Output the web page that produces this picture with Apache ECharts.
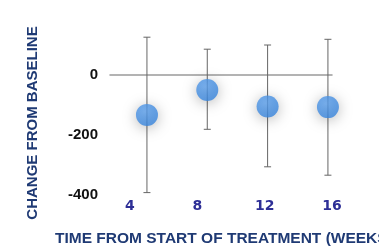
<!DOCTYPE html>
<html><head><meta charset="utf-8">
<script src="https://cdn.jsdelivr.net/npm/echarts@6/dist/echarts.min.js"></script>
<style>html,body{margin:0;padding:0;background:#fff}#c{width:379px;height:247px}</style>
</head><body><div id="c"></div>
<script>
const weeks = [4, 8, 12, 16];
const meanChange = [-133, -50, -105, -107];
const errUpper = [126, 86, 100, 119];
const errLower = [-392, -181, -306, -334];
const yTicks = [-400, -200, 0];
const xTickLabels = [4, 8, 12, 16];
const yTitle = 'CHANGE FROM BASELINE';
const xTitle = 'TIME FROM START OF TREATMENT (WEEKS)';

const chart = echarts.init(document.getElementById('c'), null, {renderer: 'canvas'});
const navy = '#1f3a74';
chart.setOption({
  animation: false,
  grid: {left: 110, right: 47, top: 15, bottom: 52},
  xAxis: [{
    type: 'value', min: 1.55, max: 16.27,
    axisLine: {show: true, onZero: true, lineStyle: {color: '#9a9a9a', width: 1.5}},
    axisTick: {show: false}, axisLabel: {show: false}, splitLine: {show: false}
  }, {
    type: 'value', min: 2.82, max: 16, position: 'bottom',
    axisLine: {show: false, onZero: false}, axisTick: {show: false}, splitLine: {show: false},
    axisLabel: {customValues: xTickLabels, margin: 4, color: '#2d2e96', fontSize: 14,
      fontWeight: 'bold', fontFamily: 'DejaVu Sans', showMaxLabel: true}
  }],
  yAxis: {
    type: 'value', min: -400, max: 200, interval: 200,
    axisLine: {show: false}, axisTick: {show: false}, splitLine: {show: false},
    axisLabel: {margin: 12, color: '#111', fontSize: 15, fontWeight: 'bold', fontFamily: 'Liberation Sans',
      padding: [6, 0, 0, 0], customValues: yTicks}
  },
  graphic: [
    {type: 'text', x: 33, y: 123, rotation: Math.PI / 2,
      style: {text: yTitle, fill: navy, font: 'bold 15px "Liberation Sans"', align: 'center', verticalAlign: 'middle'}},
    {type: 'text', x: 55, y: 239,
      style: {text: xTitle, fill: navy, font: 'bold 15.5px "Liberation Sans"', align: 'left', verticalAlign: 'middle'}}
  ],
  series: [{
    type: 'custom', xAxisIndex: 0,
    data: weeks.map((w, i) => [w, errLower[i], errUpper[i]]),
    renderItem: function (params, api) {
      const lo = api.coord([api.value(0), api.value(1)]);
      const hi = api.coord([api.value(0), api.value(2)]);
      const cap = 3.5;
      const st = {stroke: '#666', lineWidth: 1};
      return {type: 'group', children: [
        {type: 'line', shape: {x1: hi[0], y1: hi[1], x2: lo[0], y2: lo[1]}, style: st},
        {type: 'line', shape: {x1: hi[0] - cap, y1: hi[1], x2: hi[0] + cap, y2: hi[1]}, style: st},
        {type: 'line', shape: {x1: lo[0] - cap, y1: lo[1], x2: lo[0] + cap, y2: lo[1]}, style: st}
      ]};
    },
    z: 2
  }, {
    type: 'scatter', xAxisIndex: 0,
    data: weeks.map((w, i) => [w, meanChange[i]]),
    symbolSize: 22,
    itemStyle: {
      color: new echarts.graphic.RadialGradient(0.4, 0.35, 0.7, [
        {offset: 0, color: '#5ea2ee'}, {offset: 1, color: '#3583dc'}]),
      shadowBlur: 14, shadowColor: 'rgba(0,0,0,0.35)', shadowOffsetY: 2
    },
    z: 3
  }]
});
</script></body></html>
